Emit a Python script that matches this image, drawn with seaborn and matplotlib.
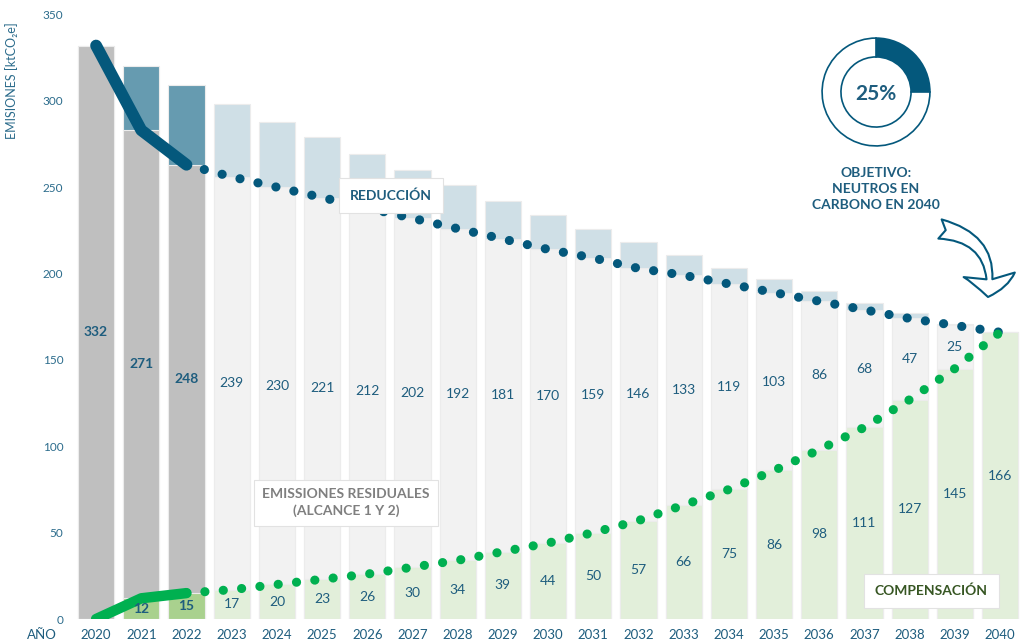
import numpy as np
import pandas as pd
import matplotlib
matplotlib.use("Agg")
import matplotlib.pyplot as plt
from matplotlib.patches import FancyArrowPatch
import seaborn as sns

# data (ktCO2e)
years = [str(y) for y in range(2020, 2041)]
compensacion = [0, 12, 15, 17, 20, 23, 26, 30, 34, 39, 44, 50, 57, 66, 75, 86, 98, 111, 127, 145, 166]
residuales = [332, 271, 248, 239, 230, 221, 212, 202, 192, 181, 170, 159, 146, 133, 119, 103, 86, 68, 47, 25, 0]
reduccion = [0, 37, 46, 42, 38, 35, 31, 28, 25, 22, 20, 17, 15, 12, 9, 8, 6, 4, 3, 1, 0]
n_real = 3  # 2020-2022 are actual values, the rest is the plan
objetivo_pct = 25

BLUE = "#04587C"
TXT = "#1E5D7E"
GREEN = "#00B050"

sns.set_theme(style="white")
plt.rcParams["font.family"] = ["Lato", "DejaVu Sans"]

df = pd.DataFrame({"year": years, "comp": compensacion, "res": residuales, "red": reduccion})
df["base"] = df["comp"] + df["res"]
df["total"] = df["base"] + df["red"]
pos = np.arange(len(df))

def layer_colors(real, plan):
    return [real if i < n_real else plan for i in range(len(df))]

fig = plt.figure(figsize=(10.24, 6.43), dpi=100)
ax = fig.add_axes([0.07, 0.0373, 0.93, 0.9402])

# stacked bars drawn back to front
bar_kw = dict(x="year", hue="year", legend=False, ax=ax, width=0.8,
              edgecolor="#ECECEC", linewidth=0.8, saturation=1)
sns.barplot(data=df, y="total", palette=layer_colors("#669BB0", "#CFDFE6"), **bar_kw)
sns.barplot(data=df, y="base", palette=layer_colors("#BFBFBF", "#F2F2F2"), **bar_kw)
sns.barplot(data=df, y="comp", palette=layer_colors("#A9D18E", "#E2EFDA"), **bar_kw)

# actual trajectory (solid) + planned (dotted)
dots = (0, (0.01, 2.0))
ax.plot(pos[:n_real], df["base"].values[:n_real], color=BLUE, lw=8.5, solid_capstyle="round",
        solid_joinstyle="round", zorder=3)
ax.plot(pos[n_real - 1:], df["base"].values[n_real - 1:], color=BLUE, lw=6.6,
        linestyle=dots, dash_capstyle="round", zorder=3)
ax.plot(pos[:n_real], df["comp"].values[:n_real], color=GREEN, lw=7.5, solid_capstyle="round",
        solid_joinstyle="round", zorder=3)
ax.plot(pos[n_real - 1:], df["comp"].values[n_real - 1:], color=GREEN, lw=6.6,
        linestyle=dots, dash_capstyle="round", zorder=3)

# value labels
for i, row in df.iterrows():
    w = "bold" if i < n_real else "normal"
    if row["res"] > 0:
        ax.text(i, row["comp"] + row["res"] / 2, f"{row['res']}", ha="center", va="center",
                fontsize=10, color=TXT, fontweight=w, zorder=4)
    if row["comp"] > 0:
        ax.text(i, row["comp"] / 2, f"{row['comp']}", ha="center", va="center",
                fontsize=10, color=TXT, fontweight=w, zorder=4)

box = dict(boxstyle="square,pad=0.8", fc="white", ec="#E2E2E2", lw=0.8)
ax.text(6.53, 245, "REDUCCIÓN", ha="center", va="center", fontsize=10,
        fontweight="bold", color=TXT, bbox=box, zorder=6)
ax.text(5.53, 67.4, "EMISSIONES RESIDUALES\n(ALCANCE 1 Y 2)", ha="center", va="center",
        fontsize=10, fontweight="bold", color="#7F7F7F", linespacing=1.45,
        bbox=dict(boxstyle="square,pad=0.6", fc="white", ec="#E2E2E2", lw=0.8), zorder=6)
ax.text(18.48, 16.2, "COMPENSACIÓN", ha="center", va="center", fontsize=10,
        fontweight="bold", color="#375623", bbox=box, zorder=6)

# axes styling
ax.set_ylim(0, 350)
ax.set_xlim(-0.54, 20.53)
ax.set_yticks(range(0, 351, 50))
ax.set_xlabel("")
ax.set_ylabel("")
sns.despine(ax=ax, left=True, bottom=True)
ax.tick_params(axis="x", length=0, pad=7, labelsize=9.5, labelcolor=TXT)
ax.tick_params(axis="y", length=0, pad=6, labelsize=8.5, labelcolor="#2C6C8C")

fig.text(12 / 1024, 1 - 81 / 643, "EMISIONES [ktCO₂e]", rotation=90, ha="center",
         va="center", fontsize=9, color="#2C6C8C")
fig.text(42 / 1024, 1 - 635 / 643, "AÑO", ha="center", va="center", fontsize=9.5, color=TXT)

# donut with the target
dax = fig.add_axes([(876 - 55) / 1024, (643 - 92 - 55) / 643, 110 / 1024, 110 / 643])
dax.pie([objetivo_pct, 100 - objetivo_pct], colors=[BLUE, "white"], startangle=90,
        counterclock=False, wedgeprops=dict(width=0.35, edgecolor=BLUE, linewidth=1.2))
dax.set_xlim(-1.02, 1.02)
dax.set_ylim(-1.02, 1.02)
dax.set_aspect("equal")
dax.axis("off")
fig.text(876 / 1024, 1 - 94 / 643, f"{objetivo_pct}%", ha="center", va="center",
         fontsize=15, fontweight="bold", color=TXT)
fig.text(876 / 1024, 1 - 189 / 643, "OBJETIVO:\nNEUTROS EN\nCARBONO EN 2040", ha="center",
         va="center", fontsize=10, fontweight="bold", color=TXT, linespacing=1.37)

arrow = FancyArrowPatch((940 / 1024, 1 - 229 / 643), (988 / 1024, 1 - 297 / 643),
                        transform=fig.transFigure, connectionstyle="arc3,rad=-0.5",
                        arrowstyle="fancy,head_length=1.6,head_width=3.7,tail_width=1.4",
                        mutation_scale=10, shrinkA=0, shrinkB=0,
                        fc="white", ec=BLUE, lw=1.5)
fig.patches.append(arrow)

plt.savefig("out.png", dpi=100)
plt.close()
